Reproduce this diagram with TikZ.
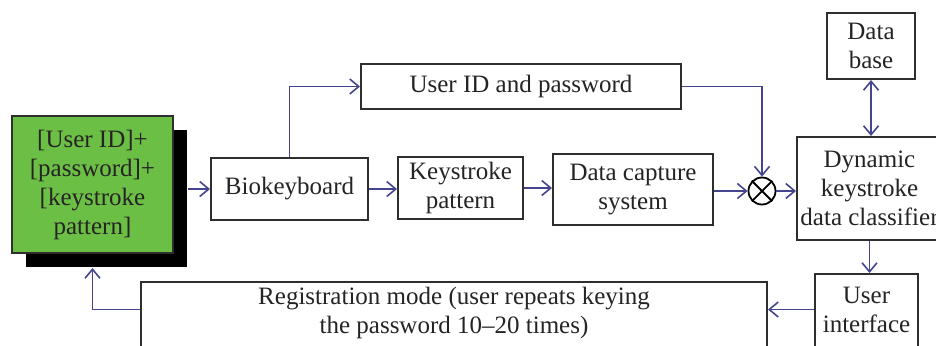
\documentclass[tikz,border=0pt]{standalone}
\usepackage{fontspec}
\setmainfont{Liberation Serif}
\usetikzlibrary{arrows.meta,shadows}

\definecolor{boxgray}{HTML}{2E2E2E}
\definecolor{txtgray}{HTML}{262324}
\definecolor{linkblue}{HTML}{45458F}
\definecolor{keygreen}{HTML}{6CBF45}

\tikzset{
    box/.style={draw=boxgray, line width=1pt, fill=white, text=txtgray,
        align=center, inner sep=0pt, font=\fontsize{12.5}{14.5}\selectfont},
    boxtext/.style={text=txtgray, align=center, inner sep=0pt,
        font=\fontsize{12.5}{14.5}\selectfont},
    link/.style={draw=linkblue, line width=0.8pt,
        -{Straight Barb[length=4.5pt,width=7.5pt]}},
    biglink/.style={draw=linkblue, line width=0.8pt,
        {Straight Barb[length=4.5pt,width=7.5pt]}-{Straight Barb[length=4.5pt,width=7.5pt]}}
}

\begin{document}
\begin{tikzpicture}[x=0.5pt, y=-0.5pt]

    % Frame (the bottom and right edges cut the last boxes)
    \useasboundingbox (0,0) rectangle (936,345);
    \clip (0,0) rectangle (936,345);

    % Input block with its shadow
    \node[box, fill=keygreen, minimum width=80.5pt, minimum height=68.5pt,
        drop shadow={shadow xshift=7pt, shadow yshift=-7pt, fill=black, opacity=1}]
        (in) at (92.5,184.5) {[User ID]+\\{}[password]+\\{}[keystroke\\pattern]};

    % Main row
    \node[box, minimum width=78.5pt, minimum height=31pt] (bio) at (289.5,189) {Biokeyboard};
    \node[box, minimum width=62.5pt, minimum height=31pt] (keys) at (460.5,188) {Keystroke\\pattern};
    \node[box, minimum width=80pt, minimum height=35.5pt] (cap) at (633,189.5) {Data capture\\system};
    \node[circle, draw=black, line width=0.9pt, minimum size=13.5pt, inner sep=0pt] (mult) at (762,191) {};
    \draw[line width=0.9pt] (mult.45) -- (mult.225) (mult.135) -- (mult.315);
    \node[box, minimum width=72.5pt, minimum height=51.5pt] (cls) at (869.5,188.5) {Dynamic\\keystroke\\data classifier};

    % Upper branch and database
    \node[box, minimum width=160pt, minimum height=22.5pt] (uid) at (521,86.5) {User ID and password};
    \node[box, minimum width=44pt, minimum height=33pt] (db) at (871,46) {Data\\base};

    % Lower row (boxes run past the bottom edge)
    \node[box, minimum width=51.5pt, minimum height=39pt] (ui) at (866.5,313) {};
    \node[boxtext] (uitext) at (866.5,309.5) {User\\interface};
    \node[box, minimum width=313pt, minimum height=35pt] (reg) at (454,317) {};
    \node[boxtext] (regtext) at (454,312.5)
        {Registration mode (user repeats keying\\the password 10--20 times)};

    % Connectors
    \draw[link, shorten <=7pt] (bio.west -| in.east) -- (bio.west);
    \draw[link] (bio.east) -- (bio.east -| keys.west);
    \draw[link] (keys.east) -- (keys.east -| cap.west);
    \draw[link] (cap.east |- mult.west) -- (mult.west);
    \draw[link] (mult.east) -- (mult.east -| cls.west);
    \draw[link] (bio.north) |- (uid.west);
    \draw[link] (uid.east) -| (mult.north);
    \draw[biglink] (db.south) -- (db.south |- cls.north);
    \draw[link] (cls.south) -- (cls.south |- ui.north);
    \draw[link] (uitext.west -| ui.west) -- (uitext.west -| reg.east);
    \draw[link, shorten >=7pt] (uitext.west -| reg.west) -| (in.south);

\end{tikzpicture}
\end{document}
